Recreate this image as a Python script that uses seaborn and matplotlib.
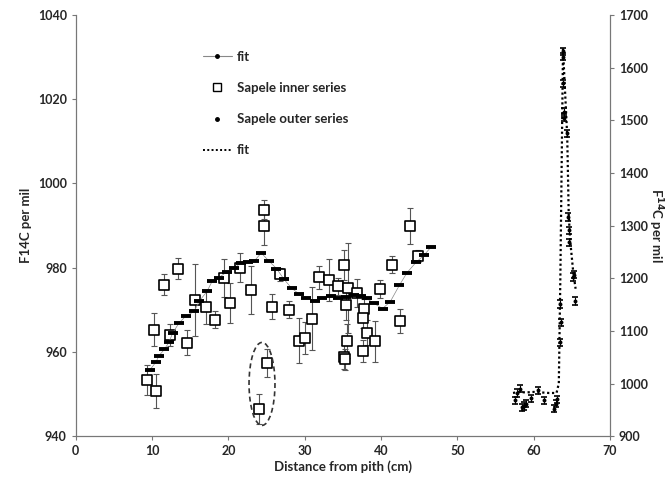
import matplotlib
matplotlib.use("Agg")
import matplotlib.pyplot as plt
from matplotlib.lines import Line2D
from matplotlib.patches import Ellipse
import numpy as np
import pandas as pd
import seaborn as sns

# inner series (left axis)
inner_x = [9.3, 10.5, 10.3, 11.6, 12.3, 13.4, 14.6, 15.6, 17.1, 18.2, 19.4, 20.2, 21.5, 23.0,
           24.6, 24.7, 25.0, 24.0, 25.7, 26.8, 27.9, 31.0, 29.2, 30.1, 31.9, 33.2, 34.4, 35.2,
           35.7, 35.4, 35.5, 35.1, 35.3, 36.9, 37.8, 37.6, 38.2, 37.6, 39.2, 39.9, 41.4, 42.5,
           43.8, 44.8]
inner_y = [953.3, 950.8, 965.3, 976.0, 964.0, 979.8, 962.2, 972.3, 970.6, 967.6, 977.6, 971.6,
           980.0, 974.8, 993.8, 989.9, 957.3, 946.5, 970.7, 978.4, 970.0, 967.9, 962.7, 963.3,
           977.7, 977.1, 975.6, 980.6, 975.1, 971.1, 962.6, 958.8, 958.2, 973.9, 970.1, 968.1,
           964.6, 960.3, 962.5, 974.9, 980.7, 967.3, 989.9, 982.8]
inner_err = [3.6, 4.0, 4.0, 2.5, 2.7, 2.4, 3.0, 8.6, 4.0, 2.0, 4.5, 4.7, 3.5, 5.7,
             2.2, 4.5, 3.3, 3.5, 3.0, 1.5, 2.0, 7.5, 5.3, 3.7, 2.7, 5.0, 2.0, 3.6,
             10.7, 3.5, 4.0, 2.8, 2.5, 3.3, 2.5, 2.5, 3.0, 2.6, 4.8, 2.2, 2.0, 2.8,
             4.2, 1.5]

# fit for inner series (left axis)
fit1_x = [9.7, 10.5, 10.9, 11.6, 12.2, 12.7, 13.5, 14.4, 15.5, 16.2, 17.2, 17.9, 18.7, 19.8,
          20.7, 21.6, 22.5, 23.4, 24.3, 25.3, 26.3, 27.3, 28.3, 29.3, 30.2, 31.3, 32.3, 33.4,
          34.3, 35.4, 36.4, 37.4, 38.1, 39.1, 40.2, 41.2, 42.4, 43.4, 44.6, 45.6, 46.6]
fit1_y = [955.7, 957.6, 959.1, 960.6, 962.3, 964.5, 966.8, 968.5, 969.6, 972.1, 974.4, 976.9,
          977.6, 979.0, 979.9, 981.0, 981.4, 981.6, 983.5, 981.6, 979.8, 977.2, 975.1, 973.7,
          972.9, 972.1, 972.7, 973.3, 972.7, 973.1, 973.5, 973.3, 972.7, 971.5, 970.3, 971.9,
          975.8, 978.8, 981.3, 982.9, 985.0]

# outer series (right axis)
outer_x = [57.5, 57.8, 58.2, 58.5, 58.8, 59.0, 59.6, 60.6, 61.4, 62.7, 62.9, 63.0,
           63.5, 63.6, 63.5, 63.9, 63.9, 63.9, 64.0, 64.0, 64.4, 64.5, 64.7, 64.7,
           65.2, 65.3, 65.4]
outer_y = [968, 982, 990, 955, 957, 962, 972, 987, 968, 952, 962, 970,
           1078, 1116, 1151, 1631, 1621, 1570, 1516, 1505, 1475, 1316, 1291, 1268,
           1202, 1207, 1157]

# fit for outer series (right axis)
fit2_x = [57.3, 58.0, 59.0, 60.0, 61.0, 62.0, 63.0, 63.3, 63.5, 63.7, 63.85, 64.1, 64.4,
          64.6, 64.8, 65.2, 65.5]
fit2_y = [982, 984, 983, 984, 983, 982, 982, 1000, 1200, 1450, 1635, 1560, 1470,
          1320, 1270, 1210, 1180]

inner = pd.DataFrame({"x": inner_x, "y": inner_y, "err": inner_err})
outer = pd.DataFrame({"x": outer_x, "y": outer_y})

sns.set_style("ticks")
plt.rcParams["font.family"] = ["Lato", "DejaVu Sans"]
plt.rcParams["font.weight"] = "bold"

fig = plt.figure(figsize=(6.71, 4.83), dpi=100)
ax = fig.add_axes([0.113, 0.097, 0.796, 0.872])

# inner series with error bars
ax.errorbar(inner.x, inner.y, yerr=inner.err, fmt="none", ecolor="#555555",
            elinewidth=0.8, capsize=2.5, capthick=0.8, zorder=2)
sns.scatterplot(data=inner, x="x", y="y", ax=ax, marker="s", s=46,
                facecolor="white", edgecolor="black", linewidth=1.2, zorder=3)

# inner fit
ax.plot(fit1_x, fit1_y, color="#888888", lw=0.5, zorder=4)
ax.plot(fit1_x, fit1_y, ls="none", marker="_", ms=6.5, mew=2.8, color="black", zorder=4)

ax.add_patch(Ellipse((24.4, 952.4), 3.4, 19.7, fill=False, ls=(0, (3, 2)),
                     lw=1.2, edgecolor="#333333", zorder=5))

ax.set_xlim(0, 70)
ax.set_ylim(940, 1040)
ax.set_xticks(range(0, 71, 10))
ax.set_yticks(range(940, 1041, 20))
ax.set_xlabel("Distance from pith (cm)", fontsize=9.5, fontweight="bold", labelpad=2)
ax.set_ylabel("F14C per mil", fontsize=9.5, fontweight="bold", labelpad=4)

ax2 = ax.twinx()
ax2.errorbar(outer.x, outer.y, yerr=7, fmt="none", ecolor="black",
             elinewidth=0.8, capsize=2, capthick=1.2, zorder=2)
sns.scatterplot(data=outer, x="x", y="y", ax=ax2, marker="o", s=8,
                color="black", linewidth=0, zorder=3)
sns.lineplot(x=fit2_x, y=fit2_y, ax=ax2, sort=False, color="black",
             lw=1.6, ls=(0, (1, 1.2)), zorder=4)
ax2.set_ylim(900, 1700)
ax2.set_yticks(range(900, 1701, 100))
ax2.set_ylabel("F$^{14}$C per mil", fontsize=9.5, fontweight="bold", rotation=270, labelpad=12)
ax2.set_xlabel("")

for a in (ax, ax2):
    a.spines["top"].set_visible(False)
    a.tick_params(labelsize=9, length=3, width=0.8, color="#777777")
    for s in a.spines.values():
        s.set_color("#777777")
    for lab in a.get_xticklabels() + a.get_yticklabels():
        lab.set_fontweight("bold")
ax2.spines["right"].set_visible(True)

handles = [
    Line2D([], [], color="#888888", lw=0.8, marker="o", ms=2.5,
           markerfacecolor="black", markeredgecolor="black"),
    Line2D([], [], ls="none", marker="s", ms=5.5, markerfacecolor="white",
           markeredgecolor="black", mew=1.0),
    Line2D([], [], ls="none", marker="o", ms=2.5, color="black"),
    Line2D([], [], color="black", lw=1.4, ls=(0, (1, 1.2))),
]
labels = ["fit", "Sapele inner series", "Sapele outer series", "fit"]
ax.legend(handles, labels, loc="upper left", bbox_to_anchor=(0.215, 0.943),
          frameon=False, handlelength=2.2, handletextpad=0.4,
          labelspacing=1.45, prop={"weight": "bold", "size": 9.5})

fig.savefig("out.png", dpi=100)
